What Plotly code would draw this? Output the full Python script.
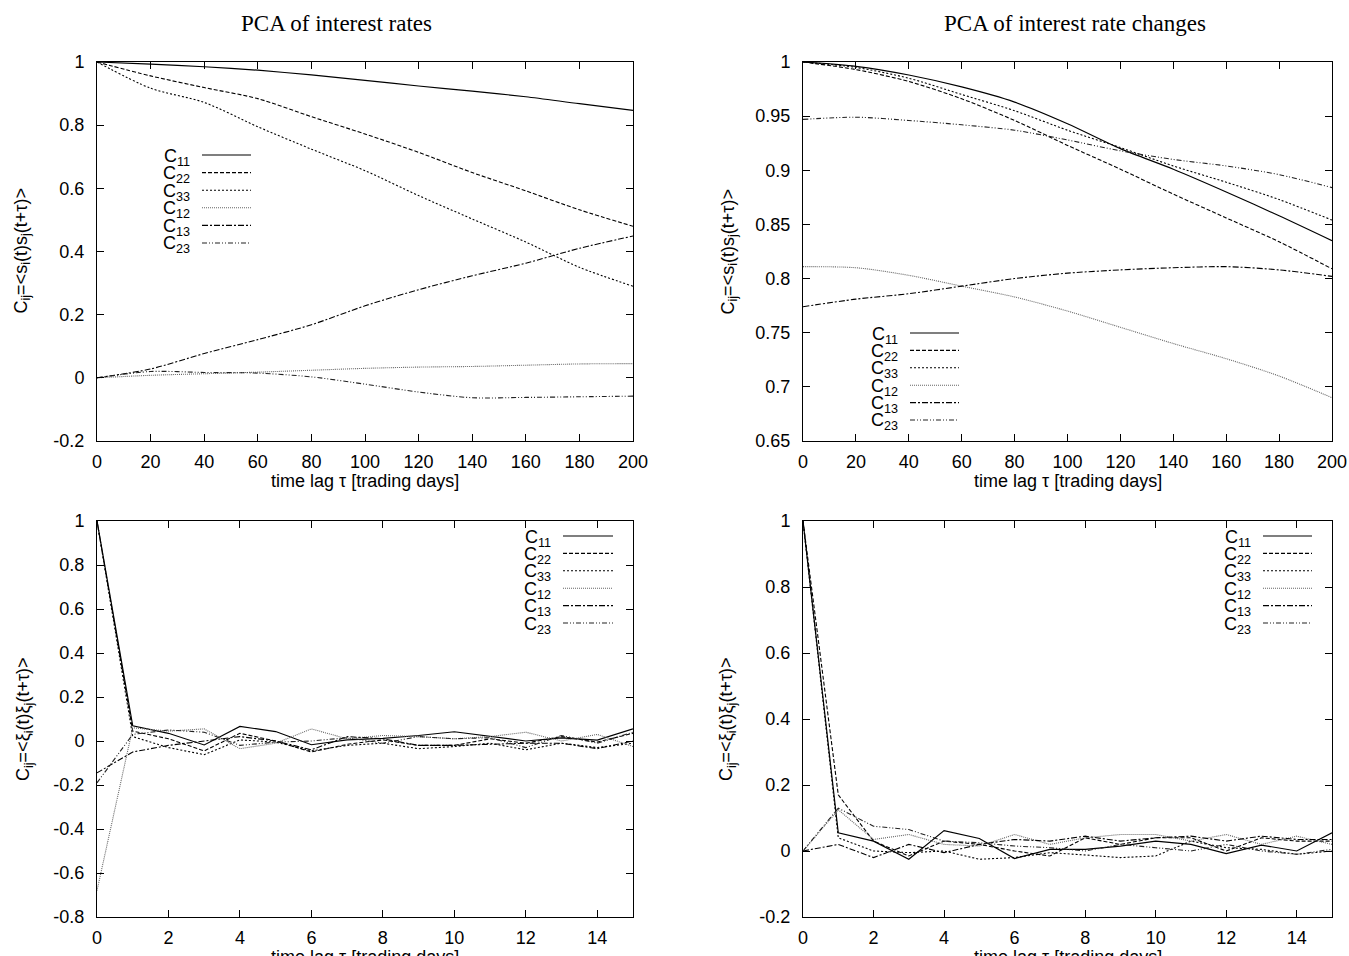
import plotly.graph_objects as go

# ---------------- data ----------------
series_names = ["C11", "C22", "C33", "C12", "C13", "C23"]
series_labels = ["C<sub>11</sub>", "C<sub>22</sub>", "C<sub>33</sub>",
                 "C<sub>12</sub>", "C<sub>13</sub>", "C<sub>23</sub>"]

tau_long = [0, 20, 40, 60, 80, 100, 120, 140, 160, 180, 200]
tau_short = [0, 1, 2, 3, 4, 5, 6, 7, 8, 9, 10, 11, 12, 13, 14, 15]

# PCA of interest rates, score autocorrelations
rates_C11 = [1.0, 0.993, 0.985, 0.974, 0.959, 0.942, 0.924, 0.908, 0.890, 0.868, 0.847]
rates_C22 = [1.0, 0.956, 0.919, 0.884, 0.827, 0.772, 0.714, 0.650, 0.592, 0.532, 0.480]
rates_C33 = [1.0, 0.917, 0.872, 0.795, 0.724, 0.656, 0.577, 0.503, 0.430, 0.350, 0.290]
rates_C12 = [0.0, 0.008, 0.013, 0.018, 0.024, 0.030, 0.034, 0.036, 0.040, 0.044, 0.045]
rates_C13 = [0.0, 0.028, 0.077, 0.121, 0.168, 0.228, 0.279, 0.323, 0.363, 0.410, 0.449]
rates_C23 = [0.0, 0.020, 0.017, 0.015, 0.003, -0.020, -0.045, -0.063, -0.062, -0.060, -0.058]

# PCA of interest rate changes, score autocorrelations
chg_C11 = [1.0, 0.996, 0.988, 0.977, 0.963, 0.943, 0.920, 0.901, 0.880, 0.858, 0.835]
chg_C22 = [1.0, 0.993, 0.982, 0.966, 0.946, 0.923, 0.901, 0.878, 0.856, 0.834, 0.809]
chg_C33 = [1.0, 0.995, 0.985, 0.970, 0.955, 0.937, 0.921, 0.904, 0.889, 0.873, 0.854]
chg_C12 = [0.811, 0.810, 0.803, 0.793, 0.783, 0.770, 0.755, 0.740, 0.726, 0.710, 0.690]
chg_C13 = [0.774, 0.781, 0.786, 0.793, 0.800, 0.805, 0.808, 0.810, 0.811, 0.808, 0.802]
chg_C23 = [0.947, 0.949, 0.946, 0.942, 0.937, 0.928, 0.918, 0.910, 0.904, 0.896, 0.884]

# PCA of interest rates, noise autocorrelations
nrates_C11 = [1.0, 0.069, 0.035, -0.018, 0.066, 0.043, -0.017, 0.005, 0.012, 0.025, 0.042, 0.020, 0.000, 0.014, 0.004, 0.055]
nrates_C22 = [1.0, 0.045, 0.010, -0.045, 0.035, 0.000, -0.050, -0.015, 0.005, -0.020, -0.020, 0.010, -0.010, 0.020, -0.005, 0.035]
nrates_C33 = [1.0, 0.020, -0.030, -0.062, 0.005, -0.005, -0.045, -0.020, -0.010, -0.035, -0.025, -0.010, -0.040, -0.010, -0.030, -0.010]
nrates_C12 = [-0.68, 0.060, 0.045, 0.055, -0.035, -0.010, 0.055, 0.010, 0.025, 0.020, 0.010, 0.020, 0.040, 0.000, 0.030, -0.025]
nrates_C13 = [-0.145, -0.050, -0.020, 0.000, 0.020, 0.000, -0.040, 0.020, 0.010, -0.020, -0.020, -0.015, -0.010, -0.010, -0.035, 0.000]
nrates_C23 = [-0.19, 0.030, 0.050, 0.040, -0.020, -0.005, 0.000, 0.015, -0.010, 0.020, 0.010, 0.015, -0.030, 0.025, -0.010, 0.040]

# PCA of interest rate changes, noise autocorrelations
nchg_C11 = [1.0, 0.055, 0.030, -0.025, 0.062, 0.038, -0.023, 0.005, 0.005, 0.015, 0.030, 0.020, -0.008, 0.018, 0.000, 0.055]
nchg_C22 = [1.0, 0.170, 0.030, -0.015, 0.030, 0.020, 0.000, -0.015, 0.040, 0.020, 0.040, 0.040, 0.000, 0.040, 0.030, 0.030]
nchg_C33 = [1.0, 0.040, 0.000, -0.005, 0.000, -0.025, -0.020, -0.005, -0.012, -0.020, -0.015, 0.030, 0.010, 0.005, -0.010, 0.000]
nchg_C12 = [0.0, 0.125, 0.035, 0.050, 0.020, 0.015, 0.050, 0.020, 0.040, 0.050, 0.050, 0.030, 0.050, 0.020, 0.045, 0.020]
nchg_C13 = [0.0, 0.020, -0.020, 0.020, -0.005, 0.020, 0.035, 0.030, 0.045, 0.030, 0.040, 0.045, 0.030, 0.045, 0.035, 0.035]
nchg_C23 = [0.0, 0.130, 0.075, 0.065, 0.030, 0.025, 0.015, 0.010, 0.000, 0.020, 0.010, 0.000, 0.020, 0.000, -0.010, 0.005]

# tick labels
long_xticks = [0, 20, 40, 60, 80, 100, 120, 140, 160, 180, 200]
long_xticklabels = ["0", "20", "40", "60", "80", "100", "120", "140", "160", "180", "200"]
short_xticks = [0, 2, 4, 6, 8, 10, 12, 14]
short_xticklabels = ["0", "2", "4", "6", "8", "10", "12", "14"]
rates_yticks = [-0.2, 0, 0.2, 0.4, 0.6, 0.8, 1]
rates_yticklabels = ["-0.2", "0", "0.2", "0.4", "0.6", "0.8", "1"]
chg_yticks = [0.65, 0.7, 0.75, 0.8, 0.85, 0.9, 0.95, 1]
chg_yticklabels = ["0.65", "0.7", "0.75", "0.8", "0.85", "0.9", "0.95", "1"]
nrates_yticks = [-0.8, -0.6, -0.4, -0.2, 0, 0.2, 0.4, 0.6, 0.8, 1]
nrates_yticklabels = ["-0.8", "-0.6", "-0.4", "-0.2", "0", "0.2", "0.4", "0.6", "0.8", "1"]
nchg_yticks = [-0.2, 0, 0.2, 0.4, 0.6, 0.8, 1]
nchg_yticklabels = ["-0.2", "0", "0.2", "0.4", "0.6", "0.8", "1"]

panel_titles = ["PCA of interest rates", "PCA of interest rate changes"]
xlabel = "time lag τ [trading days]"
ylabel_scores = "C<sub>ij</sub>=&lt;s<sub>i</sub>(t)s<sub>j</sub>(t+τ)&gt;"
ylabel_noise = "C<sub>ij</sub>=&lt;ξ<sub>i</sub>(t)ξ<sub>j</sub>(t+τ)&gt;"

# ---------------- styling / layout ----------------
W, H = 1349, 956
SANS = "Liberation Sans, Arial, sans-serif"
SERIF = "Liberation Serif, Times New Roman, serif"


def px(x):
    return x / W


def py(y):
    return 1 - y / H


line_styles = [
    dict(color="#000000", width=1.2, dash="solid"),
    dict(color="#000000", width=1.1, dash="4px,2px"),
    dict(color="#000000", width=1.1, dash="2px,2px"),
    dict(color="#666666", width=1.1, dash="1px,1px"),
    dict(color="#000000", width=1.1, dash="6px,2px,2px,2px"),
    dict(color="#222222", width=1.1, dash="5px,2px,1px,2px,1px,2px"),
]

panels = [
    dict(x=tau_long, ys=[rates_C11, rates_C22, rates_C33, rates_C12, rates_C13, rates_C23],
         box=(97, 633, 62, 441), xr=[0, 200], yr=[-0.2, 1],
         xt=(long_xticks, long_xticklabels), yt=(rates_yticks, rates_yticklabels),
         spline=True, ylab=ylabel_scores, ylab_x=22,
         leg=(190, 202, 251, 155, 17.6)),
    dict(x=tau_long, ys=[chg_C11, chg_C22, chg_C33, chg_C12, chg_C13, chg_C23],
         box=(803, 1332, 62, 441), xr=[0, 200], yr=[0.65, 1],
         xt=(long_xticks, long_xticklabels), yt=(chg_yticks, chg_yticklabels),
         spline=True, ylab=ylabel_scores, ylab_x=729,
         leg=(898, 910, 959, 333, 17.4)),
    dict(x=tau_short, ys=[nrates_C11, nrates_C22, nrates_C33, nrates_C12, nrates_C13, nrates_C23],
         box=(97, 633, 521, 917), xr=[0, 15], yr=[-0.8, 1],
         xt=(short_xticks, short_xticklabels), yt=(nrates_yticks, nrates_yticklabels),
         spline=False, ylab=ylabel_noise, ylab_x=24,
         leg=(551, 563, 613, 536, 17.4)),
    dict(x=tau_short, ys=[nchg_C11, nchg_C22, nchg_C33, nchg_C12, nchg_C13, nchg_C23],
         box=(803, 1332, 521, 917), xr=[0, 15], yr=[-0.2, 1],
         xt=(short_xticks, short_xticklabels), yt=(nchg_yticks, nchg_yticklabels),
         spline=False, ylab=ylabel_noise, ylab_x=727,
         leg=(1251, 1263, 1312, 536, 17.4)),
]

fig = go.Figure()
annotations = []
shapes = []
layout_axes = {}

for i, p in enumerate(panels):
    n = "" if i == 0 else str(i + 1)
    xa, ya = "x" + n, "y" + n
    for k, yvals in enumerate(p["ys"]):
        fig.add_trace(go.Scatter(
            x=p["x"], y=yvals, mode="lines", name=series_names[k],
            line=dict(shape="spline", smoothing=0.8, **line_styles[k]) if p["spline"]
            else dict(**line_styles[k]),
            xaxis=xa, yaxis=ya, showlegend=False, hoverinfo="x+y+name"))
    x0, x1, y0, y1 = p["box"]
    common = dict(showline=True, linecolor="black", linewidth=1, mirror="ticks",
                  ticks="inside", ticklen=7, tickwidth=1, tickcolor="black",
                  showgrid=False, zeroline=False, automargin=False,
                  tickfont=dict(family=SANS, size=18, color="black"))
    layout_axes["xaxis" + n] = dict(domain=[px(x0), px(x1)], range=p["xr"], anchor=ya,
                                    tickvals=p["xt"][0], ticktext=p["xt"][1],
                                    ticklabelstandoff=4, **common)
    layout_axes["yaxis" + n] = dict(domain=[py(y1), py(y0)], range=p["yr"], anchor=xa,
                                    tickvals=p["yt"][0], ticktext=p["yt"][1],
                                    ticklabelstandoff=8, **common)
    # axis titles
    annotations.append(dict(text=xlabel, xref="paper", yref="paper",
                            x=px((x0 + x1) / 2), y=py(y1 + 40), xanchor="center", yanchor="middle",
                            showarrow=False, font=dict(family=SANS, size=18, color="black")))
    annotations.append(dict(text=p["ylab"], xref="paper", yref="paper", textangle=-90,
                            x=px(p["ylab_x"]), y=py((y0 + y1) / 2), xanchor="center", yanchor="middle",
                            showarrow=False, font=dict(family=SANS, size=18, color="black")))
    # gnuplot-style key: label then sample line
    tr, lx0, lx1, ly0, dy = p["leg"]
    for k in range(len(series_names)):
        yy = ly0 + k * dy
        annotations.append(dict(text=series_labels[k], xref="paper", yref="paper",
                                x=px(tr + 2), y=py(yy + 2), xanchor="right", yanchor="middle",
                                showarrow=False, font=dict(family=SANS, size=18, color="black")))
        shapes.append(dict(type="line", xref="paper", yref="paper",
                           x0=px(lx0), x1=px(lx1), y0=py(yy), y1=py(yy),
                           line=line_styles[k]))

# panel titles
annotations.append(dict(text=panel_titles[0], xref="paper", yref="paper", x=px(336), y=py(24),
                        xanchor="center", yanchor="middle", showarrow=False,
                        font=dict(family=SERIF, size=23, color="black")))
annotations.append(dict(text=panel_titles[1], xref="paper", yref="paper", x=px(1075), y=py(24),
                        xanchor="center", yanchor="middle", showarrow=False,
                        font=dict(family=SERIF, size=23, color="black")))

fig.update_layout(width=W, height=H, margin=dict(l=0, r=0, t=0, b=0, autoexpand=False),
                  paper_bgcolor="white", plot_bgcolor="white",
                  showlegend=False, annotations=annotations, shapes=shapes,
                  **layout_axes)

fig.write_html("out.html", config={"displayModeBar": False},
               post_script="document.body.style.margin='0';document.body.style.overflow='hidden';")
